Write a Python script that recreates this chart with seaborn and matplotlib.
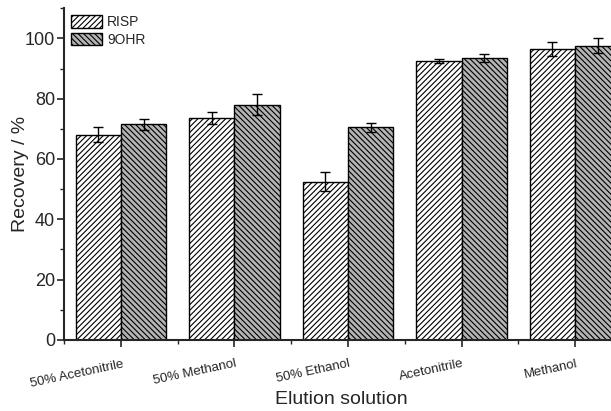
import matplotlib
matplotlib.use("Agg")
import matplotlib.pyplot as plt
from matplotlib.ticker import MultipleLocator
from matplotlib.transforms import ScaledTranslation
import seaborn as sns
import pandas as pd

solutions = ['50% Acetonitrile', '50% Methanol', '50% Ethanol', 'Acetonitrile', 'Methanol']
risp = [68.0, 73.5, 52.5, 92.5, 96.5]
risp_err = [2.5, 2.0, 3.2, 0.8, 2.2]
ohr = [71.5, 78.0, 70.5, 93.5, 97.5]
ohr_err = [1.8, 3.5, 1.5, 1.2, 2.5]

df = pd.DataFrame({
    'solution': solutions * 2,
    'recovery': risp + ohr,
    'err': risp_err + ohr_err,
    'analyte': ['RISP'] * 5 + ['9OHR'] * 5,
})

sns.set_style('ticks')
plt.rcParams['font.family'] = ['Liberation Sans', 'DejaVu Sans']
plt.rcParams['hatch.linewidth'] = 0.8

fig = plt.figure(figsize=(6.11, 4.11), dpi=100)
ax = fig.add_axes([0.105, 0.173, 0.92, 0.807])

sns.barplot(data=df, x='solution', y='recovery', hue='analyte',
            palette={'RISP': 'white', '9OHR': '#b4b4b4'},
            width=0.8, edgecolor='black', linewidth=1.0, errorbar=None, ax=ax)

hatches = {'RISP': '//////', '9OHR': '\\\\\\\\\\\\'}
names = ['RISP', '9OHR']
for container, name in zip(ax.containers, names):
    sub = df[df['analyte'] == name]
    xs = []
    for bar in container:
        bar.set_hatch(hatches[name])
        xs.append(bar.get_x() + bar.get_width() / 2)
    ax.errorbar(xs, sub['recovery'], yerr=sub['err'], fmt='none',
                ecolor='black', elinewidth=1.0, capsize=3.5, capthick=1.0)

ax.get_legend().remove()
ax.legend(handles=[c[0] for c in ax.containers[:2]], labels=names,
          loc='upper left', frameon=False, fontsize=10, handlelength=2.2,
          handleheight=1.0, borderaxespad=0.1, labelspacing=0.25,
          handletextpad=0.4, bbox_to_anchor=(0.0, 1.0))

ax.set_ylim(0, 110)
ax.set_xlim(-0.5, 4.45)
ax.yaxis.set_major_locator(MultipleLocator(20))
ax.yaxis.set_minor_locator(MultipleLocator(10))
ax.xaxis.set_minor_locator(MultipleLocator(1.0, offset=0.5))
ax.tick_params(axis='both', which='major', direction='out', length=5, width=1.2)
ax.tick_params(axis='both', which='minor', direction='out', length=3, width=1.0)
ax.tick_params(axis='y', labelsize=13, pad=1.5)
ax.tick_params(axis='x', labelsize=9.5, pad=8)
shift = ScaledTranslation(1 / 100, 0, fig.dpi_scale_trans)
for lab in ax.get_xticklabels():
    lab.set_rotation(12)
    lab.set_ha('right')
    lab.set_rotation_mode('anchor')
    lab.set_transform(lab.get_transform() + shift)

for s in ['left', 'bottom']:
    ax.spines[s].set_linewidth(1.5)
sns.despine(ax=ax)

ax.set_xlabel('Elution solution', fontsize=14)
ax.set_ylabel('Recovery / %', fontsize=14)
ax.xaxis.set_label_coords(0.493, -0.154)
ax.yaxis.set_label_coords(-0.062, 0.5)

fig.savefig('out.png', dpi=100)
